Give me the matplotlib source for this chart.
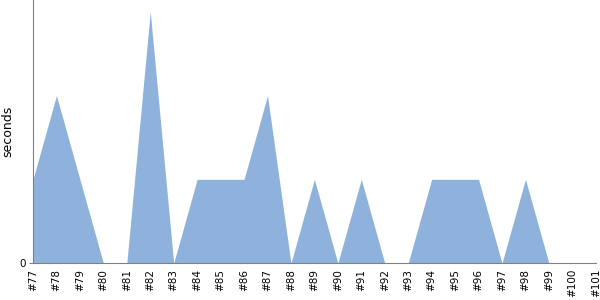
import matplotlib
import matplotlib.pyplot as plt
import numpy as np

matplotlib.use("Agg")

# build labels and durations
builds = ["#%d" % n for n in range(77, 102)]
seconds = [1, 2, 1, 0, 0, 3, 0, 1, 1, 1, 2, 0, 1, 0, 1, 0, 0, 1, 1, 1, 0, 1, 0, 0, 0]

fig = plt.figure(figsize=(6, 3), dpi=100)
ax = fig.add_axes([0.055, 0.123, 0.938, 0.877])

x = np.arange(len(builds))
ax.fill_between(x, seconds, 0, color="#8fb2dc", linewidth=0)

ax.set_xlim(0, len(builds) - 1)
ax.set_ylim(0, 3.14)
ax.set_xticks(x)
ax.set_xticklabels(builds, rotation=90, fontsize=7.5)
ax.set_yticks([0])
ax.set_yticklabels(["0"], fontsize=7.5)
ax.tick_params(axis="x", length=0, pad=4)
ax.tick_params(axis="y", length=3, color="#808080", pad=2)
ax.set_ylabel("seconds", fontsize=9, labelpad=4)

for side in ["top", "right"]:
    ax.spines[side].set_visible(False)
for side in ["left", "bottom"]:
    ax.spines[side].set_color("#808080")

fig.savefig("out.png", dpi=100)
